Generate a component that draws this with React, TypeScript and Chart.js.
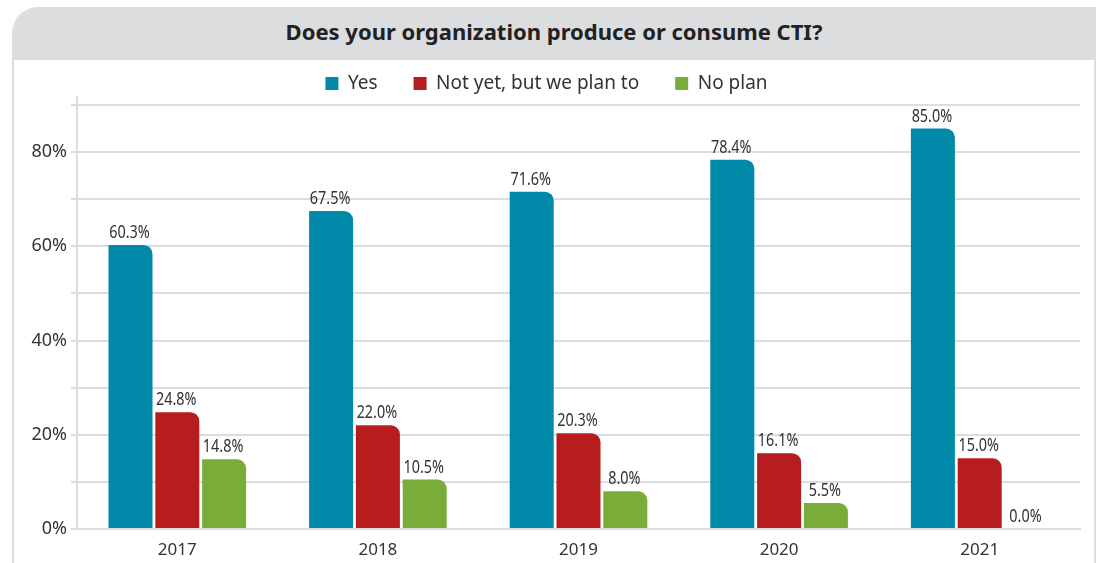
import React, { useEffect, useRef } from "react";
import { Chart, registerables } from "chart.js";

Chart.register(...registerables);

const TITLE = "Does your organization produce or consume CTI?";
const years = ["2017", "2018", "2019", "2020", "2021"];
const seriesNames = ["Yes", "Not yet, but we plan to", "No plan"];
const yesValues = [60.3, 67.5, 71.6, 78.4, 85.0];
const planValues = [24.8, 22.0, 20.3, 16.1, 15.0];
const noPlanValues = [14.8, 10.5, 8.0, 5.5, 0.0];
const seriesColors = ["#0089a8", "#b71c1e", "#7aac39"];
const yTickLabels = ["0%", "20%", "40%", "60%", "80%"];

const MAIN_FONT = '"Noto Sans", "Open Sans", sans-serif';

export default function App() {
  const canvasRef = useRef<HTMLCanvasElement | null>(null);

  useEffect(() => {
    if (!canvasRef.current) return;
    const valueLabels = {
      id: "valueLabels",
      afterDatasetsDraw(chart: any) {
        const ctx = chart.ctx;
        chart.data.datasets.forEach((ds: any, di: number) => {
          const meta = chart.getDatasetMeta(di);
          meta.data.forEach((bar: any, i: number) => {
            const v = ds.data[i] as number;
            ctx.save();
            ctx.font = `18px ${MAIN_FONT}`;
            ctx.fillStyle = "#333333";
            ctx.textAlign = "center";
            ctx.textBaseline = "bottom";
            ctx.translate(bar.x - 1, bar.y - 3);
            ctx.scale(0.8, 1);
            ctx.fillText(v.toFixed(1) + "%", 0, 0);
            ctx.restore();
          });
        });
      },
    };
    const axisExt = {
      id: "axisExt",
      beforeInit(chart: any) {
        const lg = chart.legend;
        if (lg) {
          const origFit = lg.fit;
          lg.fit = function () {
            origFit.call(this);
            this.height = 41;
          };
          const origDraw = lg._draw;
          lg._draw = function (...args: any[]) {
            const c = this.ctx;
            c.save();
            c.translate(0, -26);
            origDraw.apply(this, args);
            c.restore();
          };
        }
      },
      afterDatasetsDraw(chart: any) {
        const { ctx, chartArea } = chart;
        ctx.save();
        ctx.strokeStyle = "#dcdddf";
        ctx.lineWidth = 2;
        ctx.beginPath();
        ctx.moveTo(chartArea.left, chartArea.top - 9);
        ctx.lineTo(chartArea.left, chartArea.bottom);
        ctx.stroke();
        ctx.restore();
      },
    };

    const chart = new Chart(canvasRef.current, {
      type: "bar",
      data: {
        labels: years,
        datasets: [yesValues, planValues, noPlanValues].map((vals, i) => ({
          label: seriesNames[i],
          data: vals,
          backgroundColor: seriesColors[i],
          borderRadius: { topLeft: 0, topRight: 9, bottomLeft: 0, bottomRight: 0 },
          borderSkipped: false,
          barPercentage: 0.94,
          categoryPercentage: 0.7,
        })),
      },
      options: {
        responsive: false,
        animation: false,
        devicePixelRatio: 1,
        layout: { padding: { top: 4, right: 13, left: 0, bottom: 0 } },
        plugins: {
          legend: {
            display: true,
            position: "top",
            labels: {
              boxWidth: 13,
              boxHeight: 13,
              padding: 36,
              color: "#333333",
              font: { family: MAIN_FONT, size: 19 },
            },
          },
          title: { display: false },
          tooltip: { enabled: false },
        },
        scales: {
          x: {
            grid: { display: false },
            border: { display: true, color: "#dcdddf", width: 2 },
            ticks: {
              color: "#333333",
              font: { family: MAIN_FONT, size: 17 },
              padding: 3,
            },
            afterFit(scale: any) {
              scale.height = 34;
            },
          },
          y: {
            min: 0,
            max: 90,
            grid: { color: "#dcdddf", lineWidth: 2, tickLength: 6, drawTicks: true },
            border: { display: false },
            ticks: {
              stepSize: 10,
              color: "#333333",
              font: { family: MAIN_FONT, size: 18 },
              padding: 4,
              callback: (v: any) => {
                const idx = yTickLabels.indexOf(`${v}%`);
                return idx >= 0 ? yTickLabels[idx] : "";
              },
            },
            afterFit(scale: any) {
              scale.width = 64;
            },
          },
        },
      },
      plugins: [valueLabels, axisExt],
    });
    return () => chart.destroy();
  }, []);

  return (
    <div
      style={{
        position: "absolute",
        left: 0,
        top: 0,
        width: 1101,
        height: 563,
        background: "#ffffff",
        overflow: "hidden",
      }}
    >
      <div
        style={{
          position: "absolute",
          left: 12,
          top: 7,
          width: 1080,
          height: 600,
          borderLeft: "2px solid #dcdddf",
          borderRight: "2px solid #dcdddf",
          borderTopLeftRadius: 26,
          overflow: "hidden",
          boxSizing: "content-box",
        }}
      >
        <div
          style={{
            height: 53,
            paddingBottom: 5,
            boxSizing: "border-box",
            background: "#dcdddf",
            display: "flex",
            alignItems: "center",
            justifyContent: "center",
            fontFamily: MAIN_FONT,
            fontWeight: 700,
            fontSize: 22,
            color: "#222222",
          }}
        >
          {TITLE}
        </div>
      </div>
      <canvas
        ref={canvasRef}
        width={1080}
        height={503}
        style={{ position: "absolute", left: 13, top: 60, width: 1080, height: 503 }}
      />
    </div>
  );
}
